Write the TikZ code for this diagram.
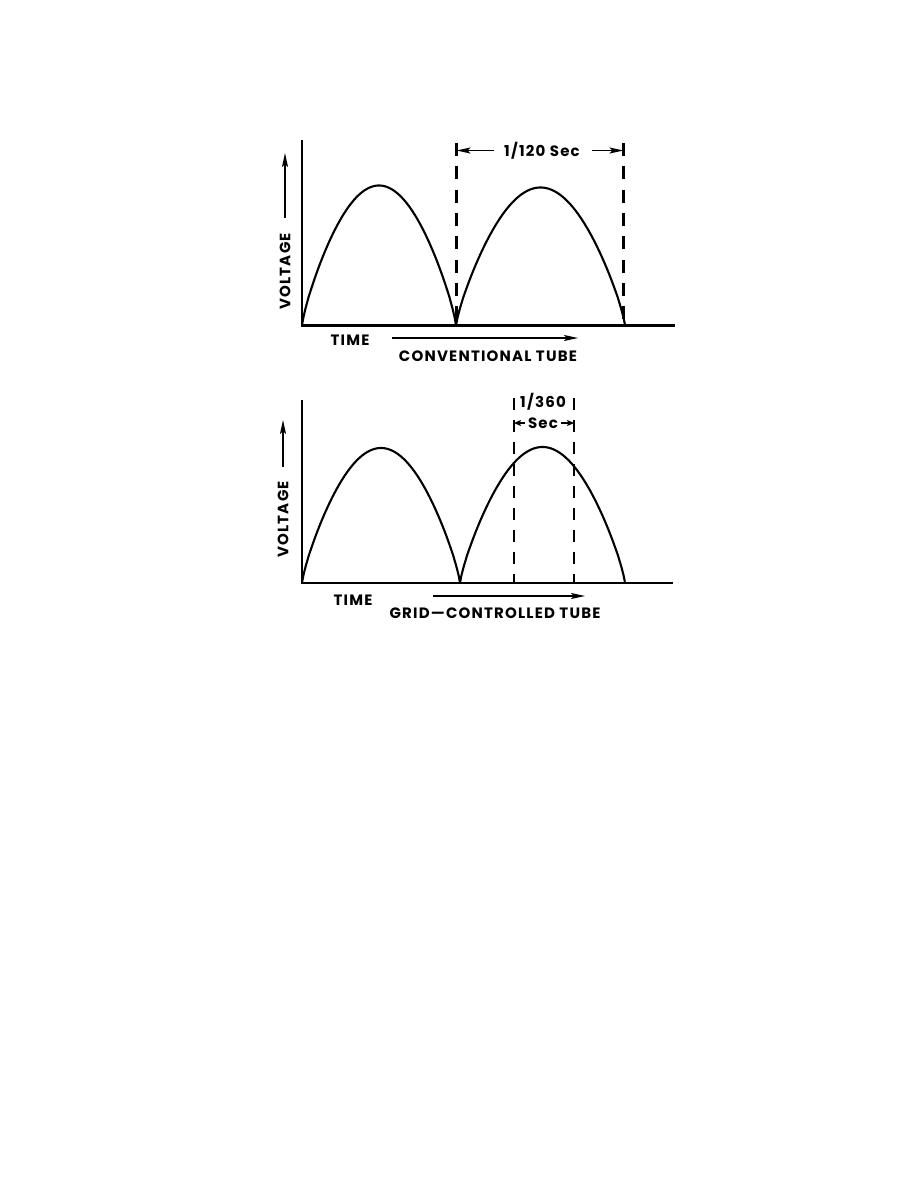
\documentclass[tikz,border=0pt]{standalone}
\usepackage{fontspec}
\setmainfont{Poppins}
\newfontfamily\lblfont[LetterSpace=8]{Poppins}
\usetikzlibrary{arrows.meta}
\begin{document}
\begin{tikzpicture}[x=1pt,y=-1pt,
  axis/.style={line width=2.6pt, line join=miter},
  wave/.style={line width=2.1pt},
  guide/.style={line width=2.2pt, dash pattern=on 13pt off 10.3pt},
  guideb/.style={line width=2.2pt, dash pattern=on 11.5pt off 10.5pt},
  lbl/.style={font=\lblfont\fontsize{15}{15}\selectfont\bfseries, inner sep=0pt},
  arr/.style={line width=1.6pt, -{Stealth[length=14pt,width=6pt,inset=3pt]}},
  sarr/.style={line width=1.6pt, -{Stealth[length=7pt,width=6pt,inset=1.5pt]}}]
\useasboundingbox[fill=white] (0,0) rectangle (918,1188);

% ---------- top plot ----------
\coordinate (ytop1) at (302,140);
\coordinate (o1) at (302,325.5);
\coordinate (xend1) at (675,325.5);
\draw[axis] (ytop1) -- (o1) -- (xend1);
\draw[wave] plot[domain=0.0005:0.9995,samples=120] ({302+154*\x},{325.5-140*(sin(180*\x))^0.8});
\draw[wave] plot[domain=0.0005:0.9995,samples=120] ({456+169*\x},{325.5-138*(sin(180*\x))^0.8});
\coordinate (d1t) at (456.5,143);
\coordinate (d1b) at (456.5,325);
\coordinate (d2t) at (623.5,143);
\coordinate (d2b) at (623.5,325);
\draw[guide] (d1t) -- (d1b);
\draw[guide] (d2t) -- (d2b);
\node[lbl] (p120) at (542,150.5) {1/120 Sec};
\draw[arr] ([xshift=-10pt]p120.west) -- (d1t |- p120);
\draw[arr] ([xshift=12pt]p120.east) -- (d2t |- p120);
\coordinate (va1) at (285,218);
\coordinate (vb1) at (285,153);
\draw[arr] (va1) -- (vb1);
\node[lbl, rotate=90] (volt1) at (285,271.5) {VOLTAGE};
\node[lbl] (time1) at (350,340) {TIME};
\coordinate (ta1) at (392,338);
\coordinate (tb1) at (578,338);
\draw[arr] (ta1) -- (tb1);
\node[lbl] (conv) at (488,356) {CONVENTIONAL TUBE};

% ---------- bottom plot ----------
\coordinate (ytop2) at (302,400);
\coordinate (o2) at (302,583);
\coordinate (xend2) at (673,583);
\draw[axis] (ytop2) -- (o2) -- (xend2);
\draw[wave] plot[domain=0.0005:0.9995,samples=120] ({302+158*\x},{583-135*(sin(180*\x))^0.8});
\draw[wave] plot[domain=0.0005:0.9995,samples=120] ({460+165*\x},{583-136*(sin(180*\x))^0.8});
\coordinate (e1t) at (514,398);
\coordinate (e1b) at (514,583);
\coordinate (e2t) at (574,398);
\coordinate (e2b) at (574,583);
\draw[guideb] (e1t) -- (e1b);
\draw[guideb] (e2t) -- (e2b);
\node[lbl] (p360) at (543,401.5) {1/360};
\node[lbl] (sec) at (543,423) {Sec};
\draw[sarr] ([xshift=-3pt]sec.west) -- (e1t |- sec);
\draw[sarr] ([xshift=3pt]sec.east) -- (e2t |- sec);
\coordinate (va2) at (283,467);
\coordinate (vb2) at (283,420);
\draw[arr] (va2) -- (vb2);
\node[lbl, rotate=90] (volt2) at (283,519.5) {VOLTAGE};
\node[lbl] (time2) at (353,600) {TIME};
\coordinate (ta2) at (433,596);
\coordinate (tb2) at (585,596);
\draw[arr] (ta2) -- (tb2);
\node[lbl] (grid) at (495,613) {GRID—CONTROLLED TUBE};
\end{tikzpicture}
\end{document}
